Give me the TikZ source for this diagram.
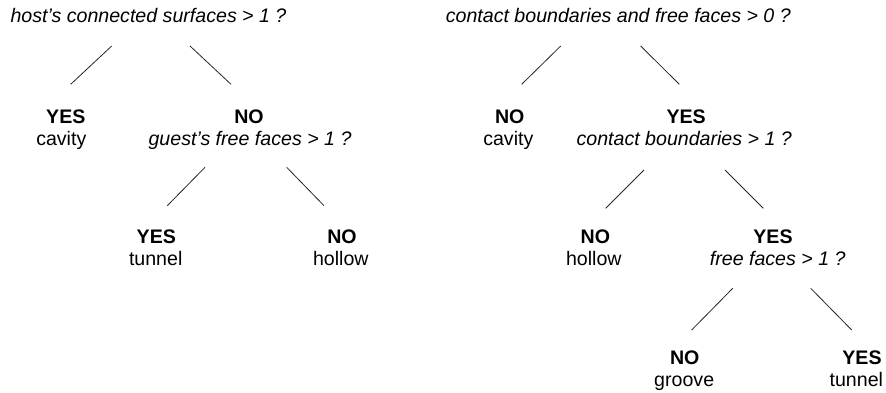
\documentclass[tikz,border=0pt]{standalone}
\usepackage{fontspec}
\setmainfont{Liberation Sans}
\usetikzlibrary{calc}
\begin{document}
\begin{tikzpicture}[x=1pt,y=-1pt,
  lbl/.style={anchor=base,inner sep=0pt,outer sep=0pt,font=\fontsize{19.6}{23}\selectfont},
  qst/.style={lbl,font=\fontsize{19.6}{23}\selectfont\itshape},
  ans/.style={lbl,font=\fontsize{19.6}{23}\selectfont\bfseries},
  edge/.style={draw=black!85,line width=0.8pt}]
\useasboundingbox (0,0) rectangle (886,393);
% left tree
\node[qst] (root1) at (148.5,22.5) {host’s connected surfaces > 1 ?};
\node[ans] (yes1) at (65.8,123.5) {YES};
\node[lbl] (cav1) at (61.3,145.5) {cavity};
\node[ans] (no1) at (249,123.5) {NO};
\node[qst] (q1) at (250,145.5) {guest’s free faces > 1 ?};
\node[ans] (yes2) at (156.3,243.3) {YES};
\node[lbl] (tun1) at (155.7,265.5) {tunnel};
\node[ans] (no2) at (342,243.3) {NO};
\node[lbl] (hol1) at (340.8,265.5) {hollow};
% right tree
\node[qst] (root2) at (618.3,22.5) {contact boundaries and free faces > 0 ?};
\node[ans] (no3) at (509.7,123.5) {NO};
\node[lbl] (cav2) at (508.3,145.5) {cavity};
\node[ans] (yes3) at (686.2,123.5) {YES};
\node[qst] (q2) at (684.2,145.5) {contact boundaries > 1 ?};
\node[ans] (no4) at (595.3,243) {NO};
\node[lbl] (hol2) at (593.8,265.5) {hollow};
\node[ans] (yes4) at (773,243) {YES};
\node[qst] (q3) at (777.7,265.5) {free faces > 1 ?};
\node[ans] (no5) at (684.7,364) {NO};
\node[lbl] (gro) at (684.2,386) {groove};
\node[ans] (yes5) at (862,364) {YES};
\node[lbl] (tun2) at (856.3,386) {tunnel};
% connectors
\draw[edge] ($(root1.base)+(-36.8,23.5)$) -- ($(yes1.base)+(4.9,-39.2)$);
\draw[edge] ($(root1.base)+(41.5,23.5)$) -- ($(no1.base)+(-18,-39.2)$);
\draw[edge] ($(q1.base)+(-45,21.8)$) -- ($(yes2.base)+(11,-37.6)$);
\draw[edge] ($(q1.base)+(36.7,21.8)$) -- ($(no2.base)+(-18,-37.6)$);
\draw[edge] ($(root2.base)+(-57.6,23.5)$) -- ($(no3.base)+(12,-39.2)$);
\draw[edge] ($(root2.base)+(22.4,23.5)$) -- ($(yes3.base)+(-6.9,-39.2)$);
\draw[edge] ($(q2.base)+(-40.2,24.5)$) -- ($(no4.base)+(10.4,-34.7)$);
\draw[edge] ($(q2.base)+(40.8,24.5)$) -- ($(yes4.base)+(-9.7,-34.7)$);
\draw[edge] ($(q3.base)+(-45,22.8)$) -- ($(no5.base)+(7,-34)$);
\draw[edge] ($(q3.base)+(33,22.8)$) -- ($(yes5.base)+(-10.3,-34)$);
\end{tikzpicture}
\end{document}
